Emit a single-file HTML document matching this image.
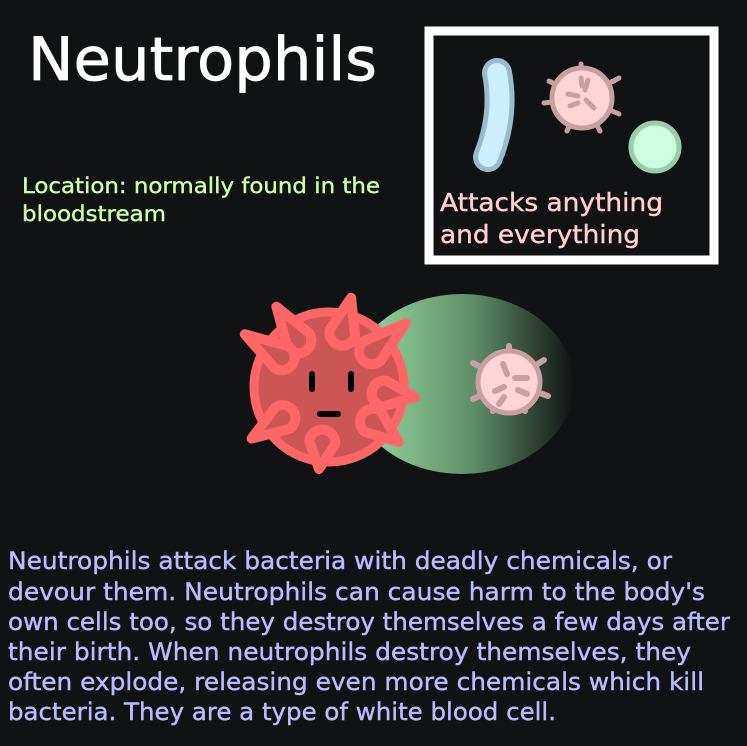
<!DOCTYPE html>
<html><head><meta charset="utf-8"><style>
html,body{margin:0;padding:0;background:#111214;}
svg{display:block;}
text{font-family:"DejaVu Sans","Liberation Sans",sans-serif;}
</style></head><body>
<svg width="747" height="746" viewBox="0 0 747 746">
<defs>
<linearGradient id="g" x1="0" x2="1" y1="0" y2="0">
<stop offset="0" stop-color="#9be0a4"/><stop offset="0.55" stop-color="#5e8f68"/><stop offset="1" stop-color="#111214"/>
</linearGradient>
</defs>
<rect width="747" height="746" fill="#111214"/>
<text x="28" y="80" font-size="60" fill="#ffffff" stroke="#ffffff" stroke-width="0.8" textLength="349" lengthAdjust="spacingAndGlyphs">Neutrophils</text>
<g fill="#ccffaa" stroke="#ccffaa" stroke-width="0.4" font-size="21">
<text x="22" y="193" textLength="358" lengthAdjust="spacingAndGlyphs">Location: normally found in the</text>
<text x="22" y="221" textLength="144" lengthAdjust="spacingAndGlyphs">bloodstream</text>
</g>
<g>
<rect x="429" y="31" width="285" height="229" fill="#111214" stroke="#ffffff" stroke-width="9"/>
<path d="M497 73 Q505 115 488 157" stroke="#99bbcc" stroke-width="30" stroke-linecap="round" fill="none"/>
<path d="M497 73 Q505 115 488 157" stroke="#cceeff" stroke-width="20" stroke-linecap="round" fill="none"/>
<g transform="translate(582,98)" stroke="#c9a0a0" stroke-linecap="round" stroke-width="5">
<line x1="0" y1="0" x2="-1" y2="-34"/><line x1="0" y1="0" x2="37" y2="-20"/><line x1="0" y1="0" x2="37" y2="16"/><line x1="0" y1="0" x2="18" y2="33"/><line x1="0" y1="0" x2="-15" y2="33"/><line x1="0" y1="0" x2="-38" y2="5"/><line x1="0" y1="0" x2="-33" y2="-17"/>
<circle r="30" fill="#ffd5d5" stroke-width="5"/>
<line x1="-14" y1="-4" x2="-4" y2="-2"/><line x1="6" y1="-18" x2="3" y2="-8"/><line x1="-12" y1="8" x2="-4" y2="5"/><line x1="4" y1="2" x2="12" y2="10"/><line x1="-1" y1="-20" x2="0" y2="-12"/>
</g>
<circle cx="655" cy="147" r="24" fill="#ccffdd" stroke="#99ccaa" stroke-width="5"/>
<g fill="#ffd0d0" stroke="#ffd0d0" stroke-width="0.4" font-size="25">
<text x="440" y="211" textLength="223" lengthAdjust="spacingAndGlyphs">Attacks anything</text>
<text x="440" y="243" textLength="200" lengthAdjust="spacingAndGlyphs">and everything</text>
</g>
</g>
<ellipse cx="462" cy="384" rx="112" ry="90" fill="url(#g)"/>
<g transform="translate(509,382)" stroke="#c9a0a0" stroke-linecap="round" stroke-width="6">
<line x1="0" y1="0" x2="0" y2="-36"/><line x1="0" y1="0" x2="35" y2="-22"/><line x1="0" y1="0" x2="39" y2="14"/><line x1="0" y1="0" x2="16" y2="29"/><line x1="0" y1="0" x2="-16" y2="29"/><line x1="0" y1="0" x2="-36" y2="17"/><line x1="0" y1="0" x2="-36" y2="-19"/>
<circle r="31" fill="#ffd5d5" stroke-width="5"/>
<line x1="-6" y1="-18" x2="-2" y2="-8"/><line x1="6" y1="-4" x2="18" y2="-4"/><line x1="-14" y1="9" x2="-5" y2="5"/><line x1="9" y1="8" x2="18" y2="12"/><line x1="-5" y1="15" x2="-10" y2="22"/>
</g>
<g id="neut" fill="#cc5555" stroke="#ff6666" stroke-width="9" stroke-linejoin="round">
<circle cx="329" cy="387" r="75"/>
</g>
<g stroke="#000" stroke-width="6" stroke-linecap="round">
<line x1="312" y1="374" x2="312" y2="389"/><line x1="351" y1="374" x2="351" y2="389"/><line x1="320" y1="414" x2="338" y2="414"/>
</g>
<g fill="#bbbbff" stroke="#bbbbff" stroke-width="0.4" font-size="24">
<text x="8" y="569" textLength="664" lengthAdjust="spacingAndGlyphs">Neutrophils attack bacteria with deadly chemicals, or</text>
<text x="8" y="600" textLength="697" lengthAdjust="spacingAndGlyphs">devour them. Neutrophils can cause harm to the body's</text>
<text x="8" y="630" textLength="722" lengthAdjust="spacingAndGlyphs">own cells too, so they destroy themselves a few days after</text>
<text x="8" y="660" textLength="683" lengthAdjust="spacingAndGlyphs">their birth. When neutrophils destroy themselves, they</text>
<text x="8" y="690" textLength="696" lengthAdjust="spacingAndGlyphs">often explode, releasing even more chemicals which kill</text>
<text x="8" y="720" textLength="548" lengthAdjust="spacingAndGlyphs">bacteria. They are a type of white blood cell.</text>
</g>
<script>
var cx=329, cy=387;
var tips=[[272,300],[353,290],[238,330],[412,318],[423,398],[245,443],[405,447],[318,477]];
var g=document.getElementById('neut');
tips.forEach(function(t){
  var dx=t[0]-cx, dy=t[1]-cy, L=Math.sqrt(dx*dx+dy*dy), ux=dx/L, uy=dy/L;
  var bx=cx+ux*56, by=cy+uy*56, px=-uy*13, py=ux*13;
  var tx=cx+ux*(L-8), ty=cy+uy*(L-8);
  var p=document.createElementNS('http://www.w3.org/2000/svg','path');
  p.setAttribute('d','M'+(bx+px)+' '+(by+py)+' L'+tx+' '+ty+' L'+(bx-px)+' '+(by-py)+' A13 13 0 0 0 '+(bx+px)+' '+(by+py)+' Z');
  p.setAttribute('stroke-width','10');
  
  
  g.appendChild(p);
});
</script>
</svg>
</body></html>
